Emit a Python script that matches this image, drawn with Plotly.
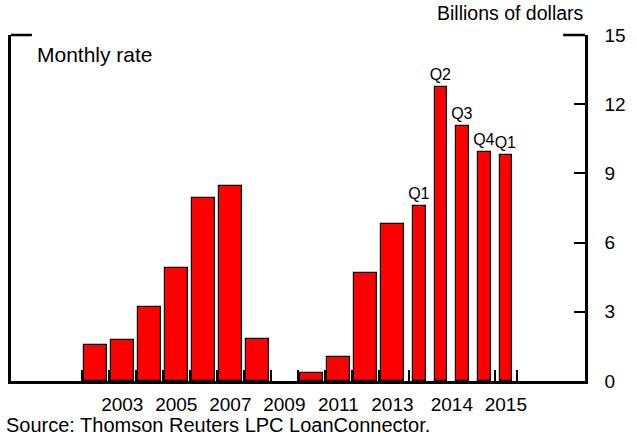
import plotly.graph_objects as go

# ---- data ----
annual_years = [2002, 2003, 2004, 2005, 2006, 2007, 2008, 2009, 2010, 2011, 2012, 2013]
annual_values = [1.58, 1.79, 3.2, 4.88, 7.95, 8.47, 1.82, None, 0.35, 1.06, 4.68, 6.79]
quarter_labels = ["Q1", "Q2", "Q3", "Q4", "Q1"]
quarter_years = [2014, 2014, 2014, 2014, 2015]
quarter_values = [7.57, 12.76, 11.05, 9.93, 9.8]
x_tick_labels = ["2003", "2005", "2007", "2009", "2011", "2013", "2014", "2015"]
y_ticks = [0, 3, 6, 9, 12, 15]

# ---- layout helpers (positions derived from categories) ----
Q_STEP = 0.8
q_start = annual_years[-1] + 1
quarter_x = [q_start + Q_STEP * i for i in range(len(quarter_values))]

def label_pos(lbl):
    y = int(lbl)
    if y in annual_years:
        return y
    xs = [x for x, qy in zip(quarter_x, quarter_years) if qy == y]
    return sum(xs) / len(xs)

tickvals = [label_pos(l) for l in x_tick_labels]
boundaries = [y - 0.5 for y in annual_years]
for i, (x, qy) in enumerate(zip(quarter_x, quarter_years)):
    if i == 0 or quarter_years[i - 1] != qy:
        boundaries.append(x - Q_STEP / 2)
boundaries.append(quarter_x[-1] + Q_STEP / 2)

FONT = "Liberation Sans, Arial, Helvetica, sans-serif"

fig = go.Figure()
fig.add_trace(go.Bar(
    x=annual_years, y=annual_values, width=0.84,
    marker=dict(color="#FF0000", line=dict(color="black", width=1.2)),
    showlegend=False, hoverinfo="x+y",
))
fig.add_trace(go.Bar(
    x=quarter_x, y=quarter_values, width=0.47,
    text=quarter_labels, textposition="outside", cliponaxis=False,
    constraintext="none",
    textfont=dict(family=FONT, size=16, color="black"),
    marker=dict(color="#FF0000", line=dict(color="black", width=1.2)),
    showlegend=False, hoverinfo="y",
))

fig.update_layout(
    width=637, height=442,
    margin=dict(l=8, r=52, t=35, b=61),
    paper_bgcolor="white", plot_bgcolor="white",
    font=dict(family=FONT, size=19, color="black"),
    bargap=0,
    xaxis=dict(
        range=[1998.88, 2020.13],
        tickmode="array", tickvals=tickvals, ticktext=x_tick_labels,
        ticks="", showgrid=False, zeroline=False,
        showline=True, linecolor="black", linewidth=3,
        tickfont=dict(size=19), ticklabelstandoff=4,
        minor=dict(tickmode="array", tickvals=boundaries, ticks="inside",
                   ticklen=11, tickwidth=2, tickcolor="black", showgrid=False),
    ),
    yaxis=dict(
        range=[0, 15], side="right",
        tickmode="array", tickvals=y_ticks,
        ticks="inside", ticklen=11, tickwidth=2, tickcolor="black",
        showline=True, mirror=True, linecolor="black", linewidth=2.5,
        showgrid=False, zeroline=False,
        tickfont=dict(size=19), ticklabelstandoff=13,
    ),
    shapes=[
        dict(type="line", xref="paper", yref="paper", x0=0, x1=21 / 577, y0=1, y1=1,
             line=dict(color="black", width=2.5)),
        dict(type="line", xref="paper", yref="paper", x0=1 - 22 / 577, x1=1, y0=1, y1=1,
             line=dict(color="black", width=2.5)),
    ],
    annotations=[
        dict(text="Monthly rate", xref="paper", yref="paper",
             x=24 / 577, y=(381 - 55) / 346, xanchor="left", yanchor="middle",
             showarrow=False, font=dict(size=21)),
        dict(text="Billions of dollars", xref="paper", yref="paper",
             x=(586 - 8) / 577, y=(381 - 13) / 346, xanchor="right", yanchor="middle",
             showarrow=False, font=dict(size=19.5)),
        dict(text="Source: Thomson Reuters LPC LoanConnector.", xref="paper", yref="paper",
             x=-7 / 577, y=(381 - 425) / 346, xanchor="left", yanchor="middle",
             showarrow=False, font=dict(size=20)),
    ],
)

fig.write_html("out.html", config={"displayModeBar": False},
               post_script="document.body.style.margin='0px';")
